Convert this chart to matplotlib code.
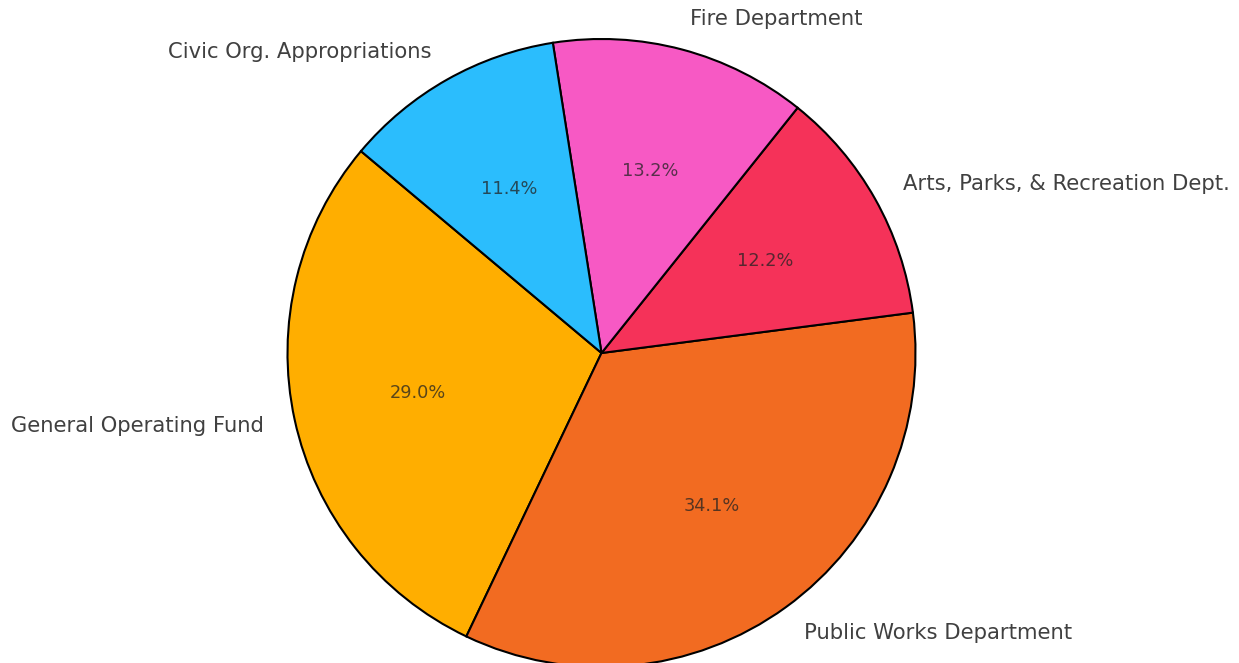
import matplotlib
matplotlib.use("Agg")
import matplotlib.pyplot as plt

categories = ["General Operating Fund", "Public Works Department",
              "Arts, Parks, & Recreation Dept.", "Fire Department",
              "Civic Org. Appropriations"]
values = [29.0, 34.1, 12.2, 13.2, 11.4]
colors = ["#FFAE00", "#F26B21", "#F53259", "#F759C4", "#2BBDFD"]

W, H = 1239, 663
cx, cy, R = 601.5, 353.0, 314.0

fig = plt.figure(figsize=(W / 100, H / 100), dpi=100)
ax = fig.add_axes([0, 0, 1, 1])
wedges, texts, autotexts = ax.pie(
    values, labels=categories, colors=colors, startangle=140,
    autopct="%1.1f%%", pctdistance=0.6, labeldistance=1.1,
    wedgeprops=dict(edgecolor="black", linewidth=1.5),
    textprops=dict(fontsize=15.2, color="#404040"))
for t in autotexts:
    t.set_fontsize(12.8)
    t.set_color("#222222")
    t.set_alpha(0.75)
ax.set_xlim(-cx / R, (W - cx) / R)
ax.set_ylim(-(H - cy) / R, cy / R)
ax.set_aspect("auto")
ax.axis("off")
fig.savefig("out.png", dpi=100)
